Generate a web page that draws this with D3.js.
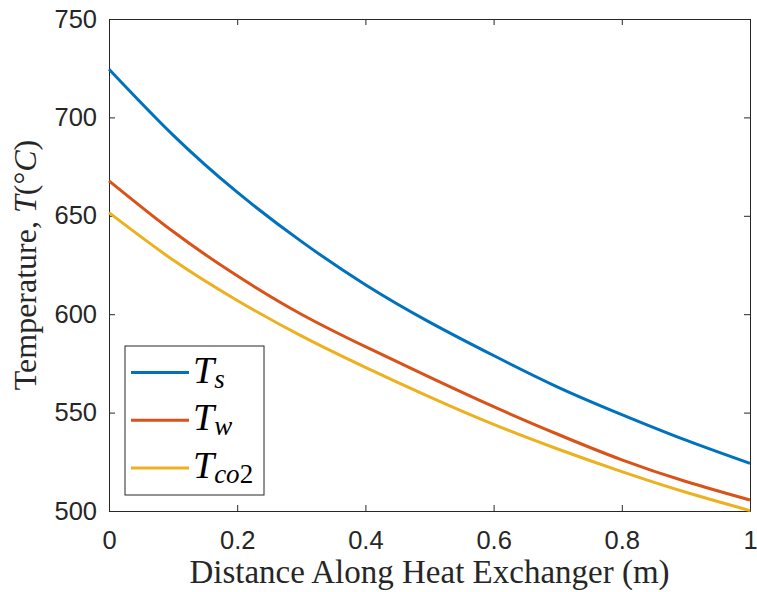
<!DOCTYPE html>
<html>
<head>
<meta charset="utf-8">
<script src="https://cdn.jsdelivr.net/npm/d3@7"></script>
<style>
  body { margin: 0; background: #fff; }
  svg { display: block; }
</style>
</head>
<body>
<div id="chart"></div>
<script>
// data
var distance = [0, 0.1, 0.2, 0.3, 0.4, 0.5, 0.6, 0.7, 0.8, 0.9, 1.0];
var tSurface = [724.5, 691, 662, 637, 615, 596, 579, 563, 549, 536, 524.2];
var tWall = [667.8, 642, 619.5, 600, 583.5, 568, 553, 539, 526, 515, 505.6];
var tCo2 = [651.6, 627.5, 607, 589, 573, 558, 544, 531.5, 520, 509.5, 500.2];
var seriesNames = ["s", "w", "co2"];
var xTicks = [0, 0.2, 0.4, 0.6, 0.8, 1];
var yTicks = [500, 550, 600, 650, 700, 750];

var margin = {top: 19, right: 7, bottom: 81, left: 109},
    width = 757 - margin.left - margin.right,
    height = 592 - margin.top - margin.bottom;

var axisColor = "#262626";
var colors = ["#0072BD", "#D95319", "#EDB120"];

var svg = d3.select("#chart")
    .append("svg")
    .attr("width", 757)
    .attr("height", 592)
    .append("g")
    .attr("transform", "translate(" + margin.left + "," + margin.top + ")");

var x = d3.scaleLinear().domain([0, 1]).range([0, width]);
var y = d3.scaleLinear().domain([500, 750]).range([height, 0]);

// axes, MATLAB style: ticks inward on all four sides
function styleAxis(g) {
    g.select(".domain").attr("stroke", axisColor).attr("stroke-width", 1);
    g.selectAll(".tick line").attr("stroke", axisColor);
    g.selectAll(".tick text")
        .attr("fill", axisColor)
        .style("font-family", "Liberation Sans, Arial, sans-serif")
        .style("font-size", "25.5px");
}

svg.append("g")
    .attr("transform", "translate(0," + height + ")")
    .call(d3.axisBottom(x).tickValues(xTicks).tickSizeInner(-6).tickSizeOuter(0).tickPadding(20)
        .tickFormat(d3.format("")))
    .call(styleAxis);

svg.append("g")
    .call(d3.axisTop(x).tickValues(xTicks).tickSizeInner(-6).tickSizeOuter(0).tickFormat(""))
    .call(styleAxis);

svg.append("g")
    .call(d3.axisLeft(y).tickValues(yTicks).tickSizeInner(-6).tickSizeOuter(0).tickPadding(12))
    .call(styleAxis);

svg.append("g")
    .attr("transform", "translate(" + width + ",0)")
    .call(d3.axisRight(y).tickValues(yTicks).tickSizeInner(-6).tickSizeOuter(0).tickFormat(""))
    .call(styleAxis);

// lines
var allSeries = [tSurface, tWall, tCo2];
var line = d3.line()
    .x(function (d, i) { return x(distance[i]); })
    .y(function (d) { return y(d); })
    .curve(d3.curveNatural);

svg.selectAll(".series")
    .data(allSeries)
    .enter()
    .append("path")
    .attr("class", "series")
    .attr("d", line)
    .attr("fill", "none")
    .attr("stroke", function (d, i) { return colors[i]; })
    .attr("stroke-width", 3);

// axis titles
var serif = "Liberation Serif, Times New Roman, serif";

svg.append("text")
    .attr("x", width / 2)
    .attr("y", height + 72)
    .attr("text-anchor", "middle")
    .attr("fill", axisColor)
    .style("font-family", serif)
    .style("font-size", "33px")
    .text("Distance Along Heat Exchanger (m)");

var yLabel = svg.append("text")
    .attr("transform", "translate(-73," + (height / 2) + ") rotate(-90)")
    .attr("text-anchor", "middle")
    .attr("fill", axisColor)
    .style("font-family", serif)
    .style("font-size", "32px");
yLabel.append("tspan").text("Temperature, ");
yLabel.append("tspan").style("font-style", "italic").text("T");
yLabel.append("tspan").text("(°");
yLabel.append("tspan").style("font-style", "italic").text("C");
yLabel.append("tspan").text(")");

// legend
var legend = svg.append("g")
    .attr("transform", "translate(16,327)");

legend.append("rect")
    .attr("width", 139)
    .attr("height", 149)
    .attr("fill", "#fff")
    .attr("stroke", axisColor)
    .attr("stroke-width", 1);

var rows = legend.selectAll(".row")
    .data(seriesNames)
    .enter()
    .append("g")
    .attr("class", "row")
    .attr("transform", function (d, i) { return "translate(0," + (26.5 + i * 47.8) + ")"; });

rows.append("line")
    .attr("x1", 6)
    .attr("x2", 64)
    .attr("stroke", function (d, i) { return colors[i]; })
    .attr("stroke-width", 3);

var label = rows.append("text")
    .attr("x", 68)
    .attr("y", 10)
    .attr("fill", "#000")
    .style("font-family", serif)
    .style("font-size", "38px");
label.append("tspan").style("font-style", "italic").text("T");
label.append("tspan")
    .attr("dy", 5)
    .style("font-size", "27px")
    .style("font-style", "italic")
    .text(function (d) { return d.replace("2", ""); });
label.filter(function (d) { return d === "co2"; })
    .append("tspan")
    .style("font-size", "27px")
    .text("2");
</script>
</body>
</html>
